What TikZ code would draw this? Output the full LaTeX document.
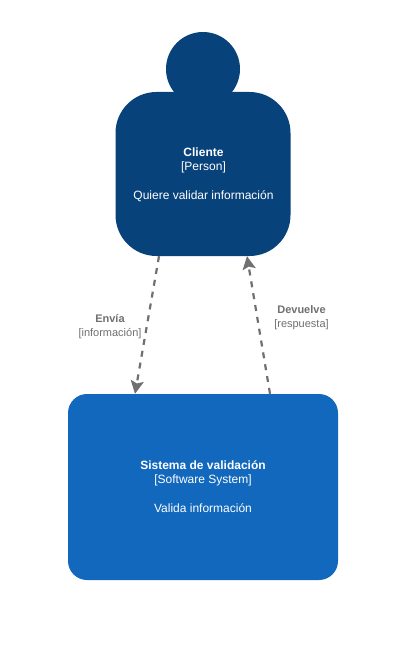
\documentclass[tikz,border=0pt]{standalone}
\usepackage{fontspec}
\setmainfont{Liberation Sans}
\usetikzlibrary{arrows.meta}
\definecolor{personblue}{HTML}{08427B}
\definecolor{systemblue}{HTML}{1168BD}
\definecolor{linkgray}{HTML}{707070}
\tikzset{
  x=1pt,y=-1pt,
  personbody/.style={fill=personblue,draw=none,rounded corners=41pt,minimum width=175pt,minimum height=164pt,inner sep=0pt},
  personhead/.style={circle,fill=personblue,draw=none,minimum size=74pt,inner sep=0pt},
  systembox/.style={fill=systemblue,draw=none,rounded corners=19pt,minimum width=270pt,minimum height=186pt,inner sep=0pt},
  boxtext/.style={text=white,align=center,inner sep=0pt,font=\fontsize{12}{14.4}\selectfont},
  linkstyle/.style={draw=linkgray,line width=2.2pt,dash pattern=on 6pt off 6pt,-{Stealth[length=13pt,width=13pt,inset=2.5pt]}},
  linklabel/.style={text=linkgray,align=center,inner sep=0pt,font=\fontsize{11}{14}\selectfont},
}
\begin{document}
\begin{tikzpicture}
\useasboundingbox[fill=white] (0,0) rectangle (406,655);
\node[personhead] (head) at (203,69) {};
\node[personbody] (cliente) at (203,174) {};
\node[systembox] (sistema) at (203,487) {};
\node[boxtext] (clientetext) at (203.5,174.4) {\textbf{Cliente}\\{}[Person]\\[14.4pt]Quiere validar información};
\node[boxtext] (sistematext) at (203,486.7) {\textbf{Sistema de validación}\\{}[Software System]\\[14.4pt]Valida información};
\draw[linkstyle] ([xshift=-44pt]cliente.south) -- ([xshift=-68pt]sistema.north);
\draw[linkstyle] ([xshift=67pt]sistema.north) -- ([xshift=44pt]cliente.south);
\node[linklabel] (envia) at (110,327) {\textbf{Envía}\\{}[información]};
\node[linklabel] (devuelve) at (301.5,318) {\textbf{Devuelve}\\{}[respuesta]};
\end{tikzpicture}
\end{document}
